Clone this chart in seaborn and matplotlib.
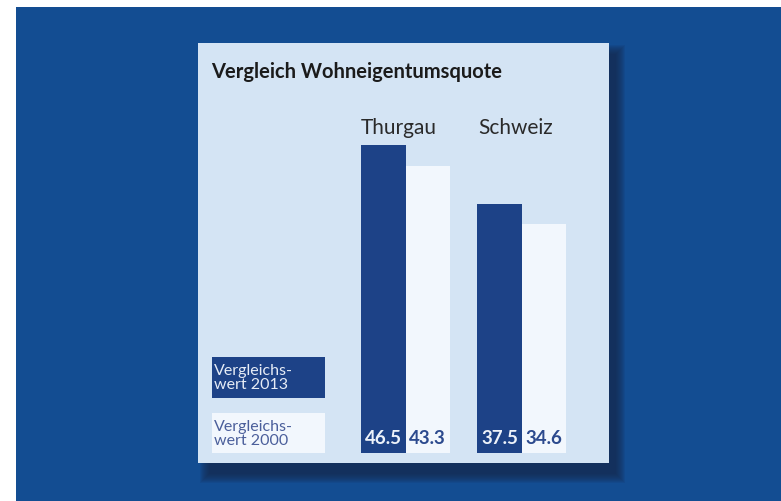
import pandas as pd
import matplotlib
matplotlib.use("Agg")
import matplotlib.pyplot as plt
from matplotlib.patches import Rectangle
import seaborn as sns

# data
regions = ["Thurgau", "Schweiz"]
quote_2013 = [46.5, 37.5]
quote_2000 = [43.3, 34.6]
years = ["2013", "2000"]
legend_labels = ["Vergleichs-\nwert 2013", "Vergleichs-\nwert 2000"]
title = "Vergleich Wohneigentumsquote"

# colours
page_blue = "#134d92"
panel_col = "#d4e4f4"
dark_bar = "#1d4287"
light_bar = "#f2f7fd"
shadow_col = "#14284a"

sns.set_theme(style="white")
plt.rcParams["font.family"] = ["Lato", "DejaVu Sans"]

df = pd.DataFrame({
    "region": regions * 2,
    "quote": quote_2013 + quote_2000,
    "jahr": [years[0]] * len(regions) + [years[1]] * len(regions),
})

fig = plt.figure(figsize=(7.81, 5.02), dpi=100)
fig.patch.set_facecolor("white")

# background layer in pixel coordinates
bg = fig.add_axes([0, 0, 1, 1])
bg.set_xlim(0, 781)
bg.set_ylim(502, 0)
bg.axis("off")
bg.add_patch(Rectangle((16, 8), 781 - 16, 502 - 8, color=page_blue, lw=0))

# soft shadow behind the panel, thrown to the lower right
for i in range(10):
    grow = 10 - i
    bg.add_patch(Rectangle((210 - grow, 56 - grow), 405 + 2 * grow, 418 + 2 * grow,
                           color=shadow_col, alpha=0.11, lw=0))
bg.add_patch(Rectangle((198, 44), 411, 420, color=panel_col, lw=0))

bg.text(211, 72, title, fontsize=14.5, fontweight="bold", color="#1b1b1b",
        ha="left", va="center")

# legend boxes
bg.add_patch(Rectangle((211.5, 357.5), 113, 41, color=dark_bar, lw=0))
bg.add_patch(Rectangle((211.5, 414), 113, 40, color=light_bar, lw=0))
bg.text(214, 378, legend_labels[0], fontsize=11.5, color="#e6ecf6",
        ha="left", va="center", linespacing=1.0)
bg.text(214, 434.5, legend_labels[1], fontsize=11.5, color="#4b5f9b",
        ha="left", va="center", linespacing=1.0)

# bar chart
px = 6.63  # pixels per percentage point
ax = fig.add_axes([347.5 / 781, (502 - 454) / 502, 232 / 781, (454 - 100) / 502])
ax.patch.set_alpha(0)
sns.barplot(data=df, x="region", y="quote", hue="jahr", hue_order=years,
            palette=[dark_bar, light_bar], saturation=1, width=0.76, gap=0,
            legend=False, linewidth=0, ax=ax)
ax.set_xlim(-0.5, 1.5)
ax.set_ylim(0, 354 / px)
ax.axis("off")

label_cols = ["#edf2fa", "#2c4a8e"]
for container, col in zip(ax.containers, label_cols):
    for bar in container:
        ax.text(bar.get_x() + bar.get_width() / 2, 15 / px, f"{bar.get_height():.1f}",
                ha="center", va="center", fontsize=13.5, fontweight="bold", color=col)

for i, name in enumerate(regions):
    ax.text(i - 0.055, (454 - 128) / px, name, ha="center", va="center",
            fontsize=15, color="#2a2a2a")

fig.savefig("out.png", dpi=100)
